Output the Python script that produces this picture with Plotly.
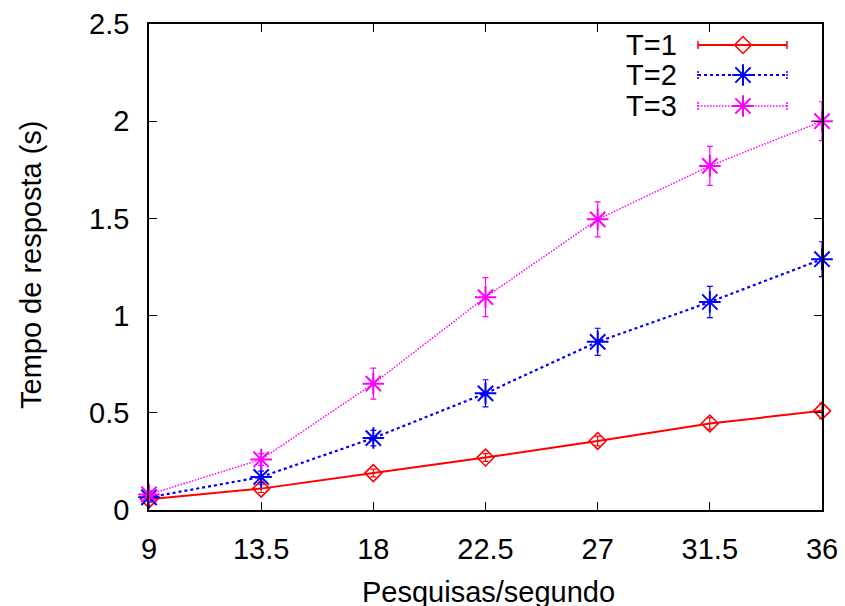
import plotly.graph_objects as go

x_vals = [9, 13.5, 18, 22.5, 27, 31.5, 36]
t1 = [0.055, 0.11, 0.19, 0.27, 0.355, 0.445, 0.51]
t1_err = [0.015, 0.02, 0.02, 0.02, 0.025, 0.03, 0.04]
t2 = [0.065, 0.17, 0.37, 0.60, 0.865, 1.07, 1.29]
t2_err = [0.02, 0.03, 0.04, 0.07, 0.07, 0.08, 0.09]
t3 = [0.08, 0.26, 0.65, 1.095, 1.495, 1.77, 2.0]
t3_err = [0.02, 0.03, 0.08, 0.1, 0.09, 0.1, 0.1]
names = ["T=1", "T=2", "T=3"]
x_ticks = [9, 13.5, 18, 22.5, 27, 31.5, 36]
y_ticks = [0, 0.5, 1, 1.5, 2, 2.5]

RED, BLUE, MAG = "#ff0000", "#0000ff", "#ff00ff"
FONT = "Liberation Sans, Arial, sans-serif"

W, H = 845, 606
L, R, T, B = 149, 23, 24, 96
PW, PH = W - L - R, H - T - B

series = [
    (t1, t1_err, RED, "solid", 2, "diamond-open", 13, 1.6),
    (t2, t2_err, BLUE, "dot", 2.2, "asterisk-open", 18, 2),
    (t3, t3_err, MAG, "1.5px,1.5px", 1.5, "asterisk-open", 18, 2),
]

fig = go.Figure()
for (ys, es, col, dash, lw, sym, ms, mlw), nm in zip(series, names):
    fig.add_trace(go.Scatter(
        x=x_vals, y=ys, name=nm, mode="lines+markers",
        line=dict(color=col, width=lw, dash=dash),
        marker=dict(symbol=sym, size=ms, color=col, line=dict(color=col, width=mlw)),
        error_y=dict(type="data", array=es, visible=True, color=col, thickness=1.2, width=3),
        cliponaxis=False, showlegend=False,
    ))

# custom gnuplot-style legend (text left, sample right)
leg_y_px = [45, 75, 106]
x0_px, xm_px, x1_px = 698, 743, 787
shapes = []
annotations = []
for (ys, es, col, dash, lw, sym, ms, mlw), nm, py in zip(series, names, leg_y_px):
    yy = 1 - (py - T) / PH
    fx0 = (x0_px - L) / PW
    fx1 = (x1_px - L) / PW
    shapes.append(dict(type="line", xref="paper", yref="paper", x0=fx0, x1=fx1, y0=yy, y1=yy,
                       line=dict(color=col, width=lw, dash=dash)))
    for fx in (fx0, fx1):
        shapes.append(dict(type="line", xref="paper", yref="paper", x0=fx, x1=fx,
                           y0=yy - 4 / PH, y1=yy + 4 / PH,
                           line=dict(color=col, width=1.5, dash="solid" if dash == "solid" else "2px,1px")))
    fig.add_trace(go.Scatter(
        x=[(xm_px - L) / PW], y=[yy], xaxis="x2", yaxis="y2", mode="markers",
        marker=dict(symbol=sym, size=ms, color=col, line=dict(color=col, width=mlw)),
        showlegend=False, hoverinfo="skip", cliponaxis=False,
    ))
    annotations.append(dict(text=nm, xref="paper", yref="paper", x=(679 - L) / PW, y=yy,
                            xanchor="right", yanchor="middle", showarrow=False,
                            font=dict(size=29, color="black", family=FONT)))

annotations.append(dict(text="Pesquisas/segundo", xref="paper", yref="paper",
                        x=(488 - L) / PW, y=-(592 - (T + PH)) / PH, xanchor="center", yanchor="middle",
                        showarrow=False, font=dict(size=29, color="black", family=FONT)))
annotations.append(dict(text="Tempo de resposta (s)", xref="paper", yref="paper",
                        x=-(L - 31) / PW, y=1 - (265 - T) / PH, xanchor="center", yanchor="middle",
                        textangle=-90, showarrow=False, font=dict(size=29, color="black", family=FONT)))

axis_common = dict(showline=True, linecolor="black", linewidth=1.5, mirror="allticks",
                   ticks="inside", ticklen=8, tickwidth=1, tickcolor="black",
                   showgrid=False, zeroline=False, automargin=False,
                   tickfont=dict(size=29, color="black", family=FONT))

fig.update_layout(
    width=W, height=H,
    margin=dict(l=L, r=R, t=T, b=B, autoexpand=False),
    paper_bgcolor="white", plot_bgcolor="white",
    xaxis=dict(range=[9, 36], tickvals=x_ticks, ticktext=[str(v) for v in x_ticks],
               ticklabelstandoff=12, **axis_common),
    yaxis=dict(range=[0, 2.5], tickvals=y_ticks, ticktext=[f"{v:g}" for v in y_ticks],
               ticklabelstandoff=12, **axis_common),
    xaxis2=dict(range=[0, 1], overlaying="x", visible=False),
    yaxis2=dict(range=[0, 1], overlaying="y", visible=False),
    shapes=shapes, annotations=annotations, showlegend=False,
)

fig.write_html("out.html")
